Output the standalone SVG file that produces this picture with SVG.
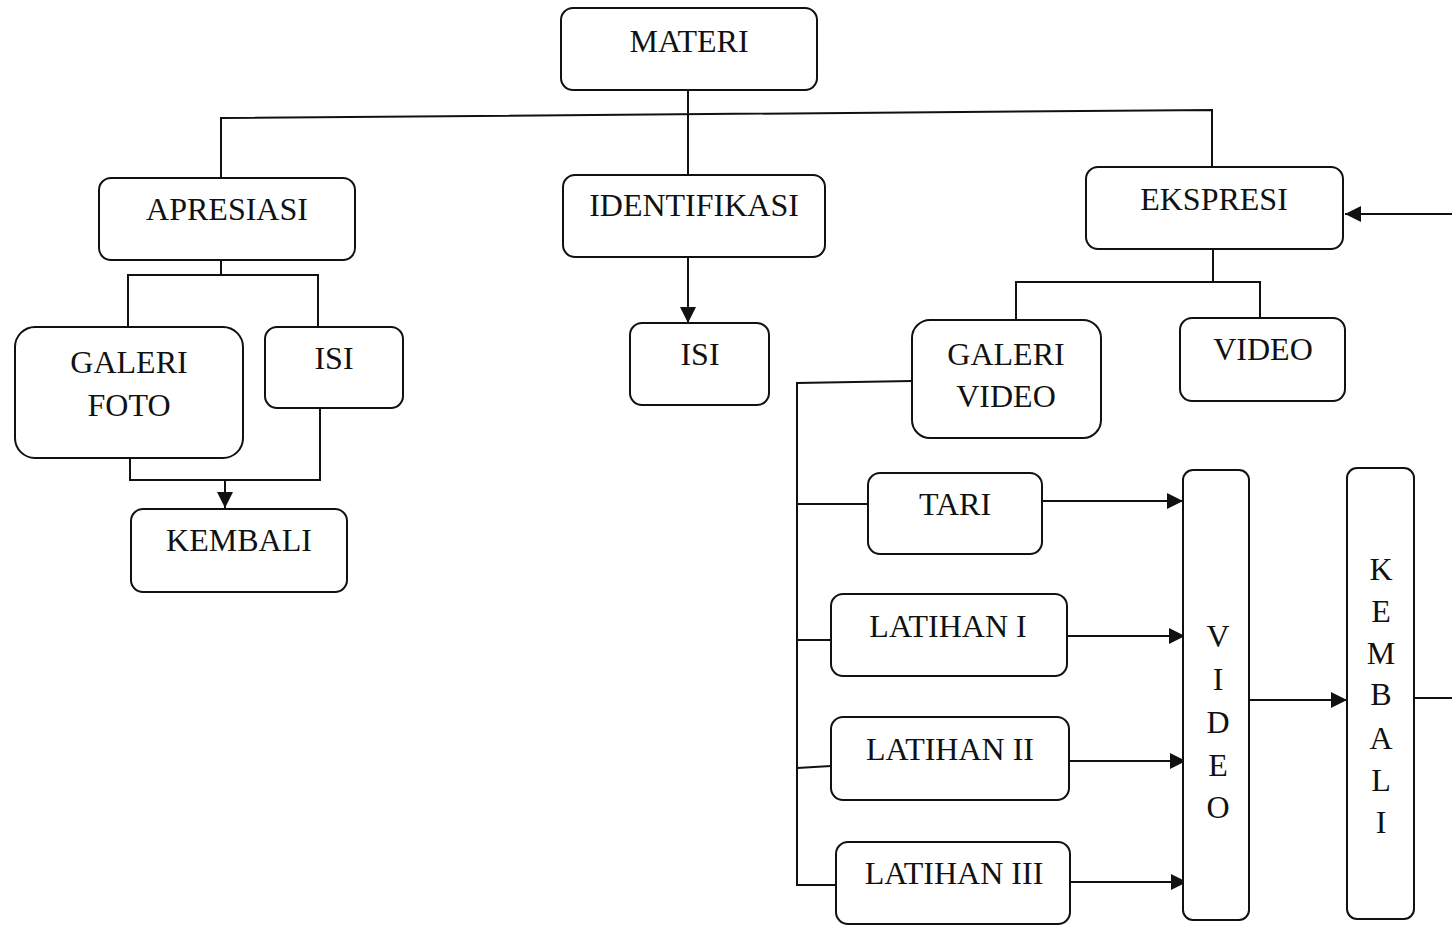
<svg xmlns="http://www.w3.org/2000/svg" width="1452" height="926" viewBox="0 0 1452 926">
<style>
.n rect{fill:#fff;stroke:#111;stroke-width:2}
text{font-family:"Liberation Serif","Times New Roman",serif;font-size:32px;fill:#111;text-anchor:middle}
.c path{fill:none;stroke:#111;stroke-width:2}
</style>
<defs>
<marker id="b" viewBox="0 0 10 10" refX="10" refY="5" markerWidth="16" markerHeight="16" markerUnits="userSpaceOnUse" orient="auto">
<path d="M0,0 L10,5 L0,10 z" fill="#111"/>
</marker>
</defs>
<rect width="1452" height="926" fill="#fff"/>
<g class="c">
<path d="M688,90 V175"/>
<path d="M221,178 V118 L1212,110 V167"/>
<path d="M1452,214 H1345" marker-end="url(#b)"/>
<path d="M221,260 V275"/>
<path d="M128,327 V275 H318 V327"/>
<path d="M130,458 V480 H320 V408"/>
<path d="M225,480 V508" marker-end="url(#b)"/>
<path d="M688,257 V323" marker-end="url(#b)"/>
<path d="M1213,249 V282"/>
<path d="M1016,320 V282 H1260 V318"/>
<path d="M912,381 L797,383 V885 H836"/>
<path d="M797,504 H868"/>
<path d="M797,640 H831"/>
<path d="M797,768 L831,766"/>
<path d="M1042,501 H1183" marker-end="url(#b)"/>
<path d="M1067,636 H1185" marker-end="url(#b)"/>
<path d="M1069,761 H1186" marker-end="url(#b)"/>
<path d="M1070,882 H1187" marker-end="url(#b)"/>
<path d="M1249,700 H1347" marker-end="url(#b)"/>
<path d="M1414,698 H1452"/>
</g>
<g id="materi" class="n"><rect x="561" y="8" width="256" height="82" rx="12"/><text x="689" y="52">MATERI</text></g>
<g id="apresiasi" class="n"><rect x="99" y="178" width="256" height="82" rx="12"/><text x="227" y="220">APRESIASI</text></g>
<g id="identifikasi" class="n"><rect x="563" y="175" width="262" height="82" rx="12"/><text x="694" y="216">IDENTIFIKASI</text></g>
<g id="ekspresi" class="n"><rect x="1086" y="167" width="257" height="82" rx="12"/><text x="1214" y="210">EKSPRESI</text></g>
<g id="galeri-foto" class="n"><rect x="15" y="327" width="228" height="131" rx="20"/><text x="129" y="373">GALERI</text><text x="129" y="416">FOTO</text></g>
<g id="isi-1" class="n"><rect x="265" y="327" width="138" height="81" rx="12"/><text x="334" y="369">ISI</text></g>
<g id="kembali-1" class="n"><rect x="131" y="509" width="216" height="83" rx="12"/><text x="239" y="551">KEMBALI</text></g>
<g id="isi-2" class="n"><rect x="630" y="323" width="139" height="82" rx="12"/><text x="700" y="365">ISI</text></g>
<g id="galeri-video" class="n"><rect x="912" y="320" width="189" height="118" rx="18"/><text x="1006" y="365">GALERI</text><text x="1006" y="407">VIDEO</text></g>
<g id="video-1" class="n"><rect x="1180" y="318" width="165" height="83" rx="12"/><text x="1263" y="360">VIDEO</text></g>
<g id="tari" class="n"><rect x="868" y="473" width="174" height="81" rx="12"/><text x="955" y="515">TARI</text></g>
<g id="latihan-1" class="n"><rect x="831" y="594" width="236" height="82" rx="12"/><text x="948" y="637">LATIHAN I</text></g>
<g id="latihan-2" class="n"><rect x="831" y="717" width="238" height="83" rx="12"/><text x="950" y="760">LATIHAN II</text></g>
<g id="latihan-3" class="n"><rect x="836" y="842" width="234" height="82" rx="12"/><text x="954" y="884">LATIHAN III</text></g>
<g id="video-2" class="n"><rect x="1183" y="470" width="66" height="450" rx="10"/>
<text x="1218" y="647">V</text><text x="1218" y="690">I</text><text x="1218" y="733">D</text><text x="1218" y="776">E</text><text x="1218" y="818">O</text></g>
<g id="kembali-2" class="n"><rect x="1347" y="468" width="67" height="451" rx="10"/>
<text x="1381" y="580">K</text><text x="1381" y="622">E</text><text x="1381" y="664">M</text><text x="1381" y="705">B</text><text x="1381" y="749">A</text><text x="1381" y="791">L</text><text x="1381" y="833">I</text></g>
</svg>
